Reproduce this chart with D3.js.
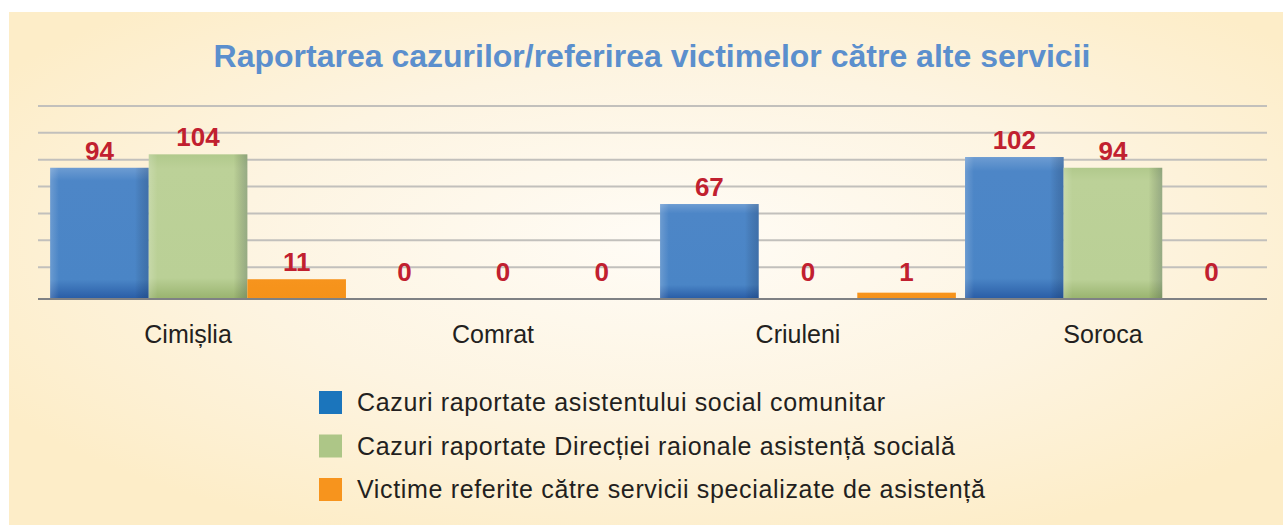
<!DOCTYPE html>
<html>
<head>
<meta charset="utf-8">
<script src="https://cdn.jsdelivr.net/npm/d3@7"></script>
<style>
  body { margin: 0; background: #fff; }
  svg { display: block; font-family: "Liberation Sans", Arial, sans-serif; }
</style>
</head>
<body>
<div class="canvas"></div>
<script>
// data
const categories = ['Cimișlia', 'Comrat', 'Criuleni', 'Soroca']
const seriesNames = [
  'Cazuri raportate asistentului social comunitar',
  'Cazuri raportate Direcției raionale asistență socială',
  'Victime referite către servicii specializate de asistență'
]
const cazuriAsistent = [94, 0, 67, 102]
const cazuriDirectie = [104, 0, 0, 94]
const victimeReferite = [11, 0, 1, 0]
const gridTicks = [20, 40, 60, 80, 100, 120, 140]

const seriesValues = [cazuriAsistent, cazuriDirectie, victimeReferite]
const seriesKeys = ['asistent', 'directie', 'victime']

const W = 1283, H = 525

const svg = d3.select('.canvas').append('svg')
  .attr('width', W)
  .attr('height', H)

const defs = svg.append('defs')

// background gradient
const bg = defs.append('radialGradient')
  .attr('id', 'bg')
  .attr('cx', '52%').attr('cy', '45%').attr('r', '62%')
bg.append('stop').attr('offset', '0%').attr('stop-color', '#fffcf6')
bg.append('stop').attr('offset', '55%').attr('stop-color', '#fdf4e1')
bg.append('stop').attr('offset', '100%').attr('stop-color', '#fdedc8')

// bar gradients (vertical)
const vGrad = (id, stops) => {
  const g = defs.append('linearGradient').attr('id', id)
    .attr('x1', 0).attr('y1', 0).attr('x2', 0).attr('y2', 1)
  stops.forEach(s => g.append('stop').attr('offset', s[0]).attr('stop-color', s[1]))
}
vGrad('g-asistent', [['0%', '#6d9cd2'], ['10%', '#4d86c7'], ['86%', '#4a85c6'], ['100%', '#2a5ea7']])
vGrad('g-directie', [['0%', '#b1c98c'], ['10%', '#bcd198'], ['86%', '#bad096'], ['100%', '#9ab470']])
vGrad('g-victime', [['0%', '#f7941d'], ['100%', '#f59219']])

// horizontal shading overlay
const h = defs.append('linearGradient').attr('id', 'hshade')
  .attr('x1', 0).attr('y1', 0).attr('x2', 1).attr('y2', 0)
h.append('stop').attr('offset', '0%').attr('stop-color', '#ffffff').attr('stop-opacity', 0.18)
h.append('stop').attr('offset', '9%').attr('stop-color', '#ffffff').attr('stop-opacity', 0)
h.append('stop').attr('offset', '86%').attr('stop-color', '#000000').attr('stop-opacity', 0)
h.append('stop').attr('offset', '100%').attr('stop-color', '#102040').attr('stop-opacity', 0.22)

svg.append('rect')
  .attr('x', 9).attr('y', 12)
  .attr('width', W - 9).attr('height', H - 12)
  .attr('fill', 'url(#bg)')

// title
svg.append('text')
  .attr('x', 652).attr('y', 67)
  .attr('text-anchor', 'middle')
  .attr('font-size', 32)
  .attr('font-weight', 'bold')
  .attr('fill', '#5b8fcd')
  .text('Raportarea cazurilor/referirea victimelor către alte servicii')

// scales
const x0 = d3.scaleBand()
  .domain(categories)
  .range([41, 1270])
  .paddingInner(0.03)
  .paddingOuter(0.03)

const x1 = d3.scaleBand()
  .domain(seriesKeys)
  .range([0, x0.bandwidth()])

const y = d3.scaleLinear()
  .domain([0, 140])
  .range([294, 106])

const depth = 4 // floor depth under the bars

// gridlines
svg.append('g')
  .selectAll('line')
  .data(gridTicks)
  .enter().append('line')
  .attr('x1', 38).attr('x2', 1267)
  .attr('y1', d => y(d)).attr('y2', d => y(d))
  .attr('stroke', '#c2c0bc')
  .attr('stroke-width', 2)

// bars
const rows = []
categories.forEach((c, i) => {
  seriesKeys.forEach((k, j) => rows.push({ cat: c, key: k, value: seriesValues[j][i] }))
})

const bars = svg.append('g')
  .selectAll('g')
  .data(rows.filter(d => d.value > 0))
  .enter().append('g')
  .attr('transform', d => `translate(${x0(d.cat) + x1(d.key)}, 0)`)

bars.append('rect')
  .attr('y', d => y(d.value))
  .attr('width', x1.bandwidth())
  .attr('height', d => y(0) + depth - y(d.value))
  .attr('fill', d => `url(#g-${d.key})`)

bars.filter(d => d.key !== 'victime').append('rect')
  .attr('y', d => y(d.value))
  .attr('width', x1.bandwidth())
  .attr('height', d => y(0) + depth - y(d.value))
  .attr('fill', 'url(#hshade)')

// baseline
svg.append('line')
  .attr('x1', 38).attr('x2', 1267)
  .attr('y1', y(0) + depth + 1).attr('y2', y(0) + depth + 1)
  .attr('stroke', '#7f8184')
  .attr('stroke-width', 2)

// value labels
svg.append('g')
  .selectAll('text')
  .data(rows)
  .enter().append('text')
  .attr('x', d => x0(d.cat) + x1(d.key) + x1.bandwidth() / 2)
  .attr('y', d => Math.min(y(d.value) - 8, y(0) - 13))
  .attr('text-anchor', 'middle')
  .attr('font-size', 26)
  .attr('font-weight', 'bold')
  .attr('fill', '#c1202f')
  .text(d => d.value)

// category labels
svg.append('g')
  .selectAll('text')
  .data(categories)
  .enter().append('text')
  .attr('x', d => x0(d) + x0.bandwidth() / 2 - 10)
  .attr('y', 343)
  .attr('text-anchor', 'middle')
  .attr('font-size', 25)
  .attr('fill', '#231f20')
  .text(d => d)

// legend
const legendColors = ['#1b75bc', '#adc687', '#f7941d']
const legend = svg.append('g')
  .selectAll('g')
  .data(seriesNames)
  .enter().append('g')
  .attr('transform', (d, i) => `translate(319, ${391 + i * 43.5})`)

legend.append('rect')
  .attr('width', 23).attr('height', 23)
  .attr('fill', (d, i) => legendColors[i])

legend.append('text')
  .attr('x', 38).attr('y', 20)
  .attr('font-size', 25)
  .attr('letter-spacing', 0.65)
  .attr('fill', '#231f20')
  .text(d => d)
</script>
</body>
</html>
